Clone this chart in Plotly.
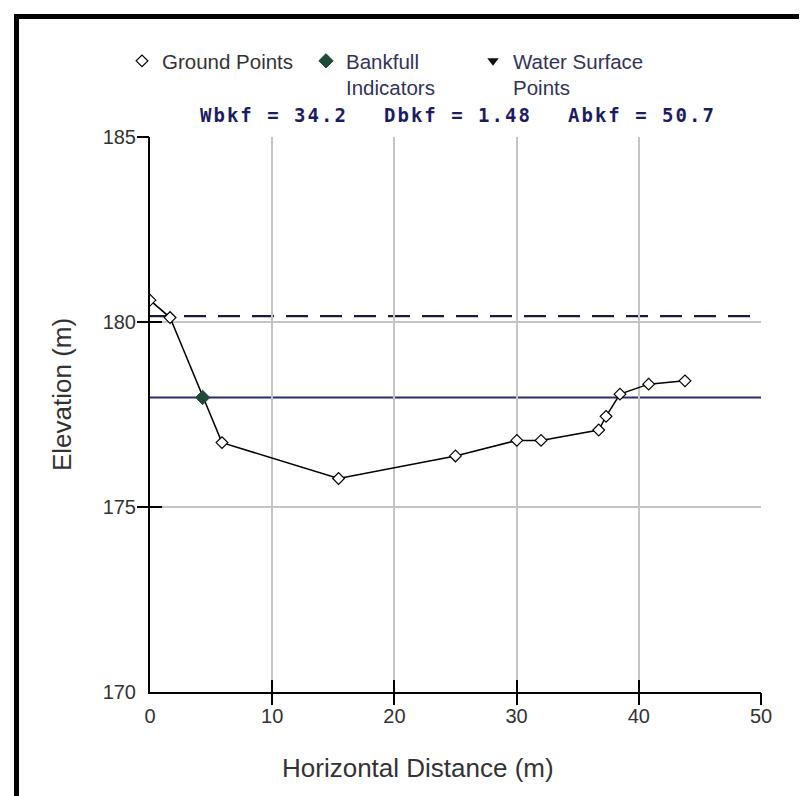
import plotly.graph_objects as go

# ---------------- data ----------------
ground_x = [0.0, 1.64, 5.89, 15.43, 25.0, 30.02, 32.0, 36.72, 37.32, 38.46, 40.81, 43.78]
ground_y = [180.59, 180.12, 176.74, 175.77, 176.38, 176.80, 176.80, 177.08, 177.45, 178.05, 178.32, 178.41]
bankfull_x = [4.31]
bankfull_y = [177.96]
water_x = [None]   # no water surface points surveyed
water_y = [None]
bankfull_elev = 177.96
floodprone_elev = 180.16
stat_labels = ["Wbkf", "Dbkf", "Abkf"]
stat_values = ["34.2", "1.48", "50.7"]
x_ticks = [0, 10, 20, 30, 40, 50]
y_ticks = [170, 175, 180, 185]

# ---------------- layout geometry ----------------
W, H = 807, 796
L, R, T, B = 142, 54, 129, 112
PW, PH = W - L - R, H - T - B


def px(xp):
    return (xp - L) / PW


def py(yp):
    return (H - B - yp) / PH


fig = go.Figure()

# ground profile line
fig.add_trace(go.Scatter(x=ground_x, y=ground_y, mode="lines",
                         line=dict(color="black", width=1.5),
                         showlegend=False, hoverinfo="skip"))
# ground points
fig.add_trace(go.Scatter(x=ground_x, y=ground_y, mode="markers", name="Ground Points",
                         marker=dict(symbol="diamond", size=9, color="white",
                                     line=dict(color="black", width=1.2)),
                         legend="legend"))
# bankfull indicators
fig.add_trace(go.Scatter(x=bankfull_x, y=bankfull_y, mode="markers",
                         name="Bankfull<br>Indicators",
                         marker=dict(symbol="diamond", size=11, color="#1f4a38",
                                     line=dict(color="#1f4a38", width=1)),
                         legend="legend2"))
# water surface points
fig.add_trace(go.Scatter(x=water_x, y=water_y, mode="markers",
                         name="Water Surface<br>Points",
                         marker=dict(symbol="triangle-down", size=10, color="#111111"),
                         legend="legend3"))
# empty carriers so the tick-only overlay axes are drawn
for xa, ya in (("x2", "y2"), ("x3", "y3")):
    fig.add_trace(go.Scatter(x=water_x, y=water_y, xaxis=xa, yaxis=ya, mode="markers",
                             showlegend=False, hoverinfo="skip"))

shapes = [
    dict(type="line", xref="paper", yref="y", x0=0, x1=1, y0=bankfull_elev, y1=bankfull_elev,
         line=dict(color="#2b2b6e", width=2), layer="below"),
    dict(type="line", xref="paper", yref="y", x0=0, x1=1, y0=floodprone_elev, y1=floodprone_elev,
         line=dict(color="#1a1a3a", width=2.2, dash="22px,12px"), layer="below"),
    # outer frame
    dict(type="rect", xref="paper", yref="paper",
         x0=px(8.5), x1=px(801.5), y0=py(810), y1=py(8.5),
         line=dict(color="black", width=5), fillcolor="rgba(0,0,0,0)", layer="above"),
]

annotations = []
stat_x = [190, 374, 558]
for lab, val, xp in zip(stat_labels, stat_values, stat_x):
    annotations.append(dict(
        xref="paper", yref="paper", x=px(xp), y=py(107), xanchor="left", yanchor="middle",
        text='<span style="letter-spacing:2px">%s = %s</span>' % (lab, val),
        showarrow=False,
        font=dict(family="DejaVu Sans Mono", size=19, color="#1c1c66", weight="bold")))
annotations.append(dict(xref="paper", yref="paper", x=px(54), y=py(387), textangle=-90,
                        text="Elevation (m)", showarrow=False, xanchor="center", yanchor="middle",
                        font=dict(family="Liberation Sans", size=26, color="#333333")))
annotations.append(dict(xref="paper", yref="paper", x=px(410), y=py(760),
                        text="Horizontal Distance (m)", showarrow=False, xanchor="center",
                        yanchor="middle",
                        font=dict(family="Liberation Sans", size=26, color="#333333")))

tickfont = dict(family="Liberation Sans", size=20, color="#333333")
grid = "#c4c4c4"

common_tick = dict(showticklabels=False, showgrid=False, zeroline=False, showline=False,
                   tickwidth=2, tickcolor="black", ticklen=12)

legend_common = dict(xref="container", yref="container", xanchor="left", yanchor="top",
                     bgcolor="rgba(0,0,0,0)", borderwidth=0, valign="top",
                     itemclick=False, itemdoubleclick=False)

LEG_TOP = 33
LEG_DX = 21
fig.update_layout(
    width=W, height=H,
    margin=dict(l=L, r=R, t=T, b=B, autoexpand=False),
    paper_bgcolor="white", plot_bgcolor="white",
    showlegend=True,
    xaxis=dict(range=[0, 50], tickvals=x_ticks, ticks="", showgrid=True, gridcolor=grid,
               gridwidth=1.5, zeroline=False, showline=True, linecolor="black", linewidth=2,
               tickfont=tickfont, ticklabelstandoff=5, automargin=False),
    yaxis=dict(range=[170, 185], tickvals=y_ticks, ticks="", showgrid=True, gridcolor=grid,
               gridwidth=1.5, zeroline=False, showline=True, linecolor="black", linewidth=2,
               tickfont=tickfont, ticklabelstandoff=8, automargin=False),
    xaxis2=dict(overlaying="x", anchor="y", side="bottom", range=[0, 50],
                tickvals=x_ticks[1:], ticks="outside", **common_tick),
    xaxis3=dict(overlaying="x", anchor="y", side="bottom", range=[0, 50],
                tickvals=x_ticks[1:], ticks="inside", **common_tick),
    yaxis2=dict(overlaying="y", anchor="x", side="left", range=[170, 185],
                tickvals=y_ticks[1:], ticks="outside", **common_tick),
    yaxis3=dict(overlaying="y", anchor="x", side="left", range=[170, 185],
                tickvals=y_ticks[1:], ticks="inside", **common_tick),
    legend=dict(x=(135 - LEG_DX) / W, y=1 - LEG_TOP / H,
                font=dict(family="Liberation Sans", size=20.5, color="#333333"), **legend_common),
    legend2=dict(x=(319 - LEG_DX) / W, y=1 - LEG_TOP / H,
                 font=dict(family="Liberation Sans", size=20.5, color="#33335a"), **legend_common),
    legend3=dict(x=(486 - LEG_DX) / W, y=1 - LEG_TOP / H,
                 font=dict(family="Liberation Sans", size=20.5, color="#33335a"), **legend_common),
    shapes=shapes,
    annotations=annotations,
)

fig.write_html("out.html")
